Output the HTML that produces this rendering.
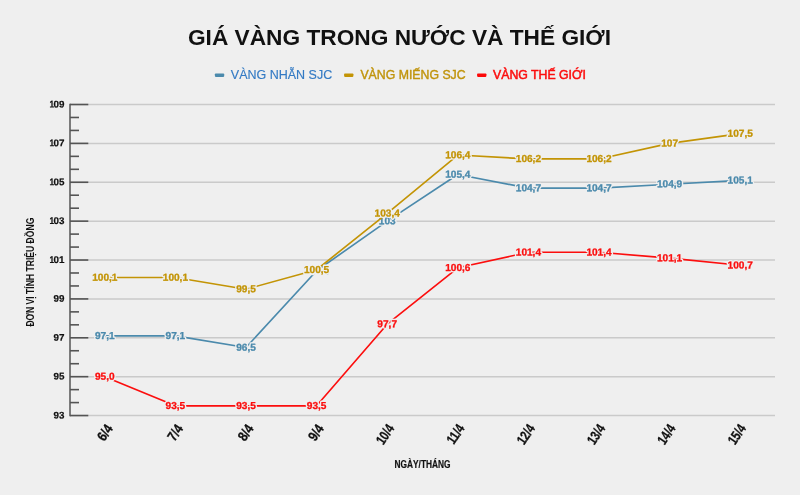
<!DOCTYPE html><html><head><meta charset="utf-8"><style>html,body{margin:0;padding:0;background:#efefef}svg{display:block;will-change:transform}text{font-family:"Liberation Sans",sans-serif}</style></head><body>
<svg width="800" height="495" viewBox="0 0 800 495">
<rect width="800" height="495" fill="#efefef"/>
<text x="399.5" y="44.7" text-anchor="middle" font-size="22.7" font-weight="bold" fill="#111">GIÁ VÀNG TRONG NƯỚC VÀ THẾ GIỚI</text>
<rect x="214.9" y="73.4" width="9.3" height="3.5" rx="0.8" fill="#4b8aac"/>
<text x="230.8" y="78.7" font-size="12.5" fill="#337ac4" stroke="#337ac4" stroke-width="0.15">VÀNG NHẪN SJC</text>
<rect x="344.1" y="73.4" width="9.3" height="3.5" rx="0.8" fill="#c39405"/>
<text x="360.4" y="78.7" font-size="12.3" fill="#c0940c" stroke="#c0940c" stroke-width="0.4">VÀNG MIẾNG SJC</text>
<rect x="477.1" y="73.4" width="9.3" height="3.5" rx="0.8" fill="#fc0808"/>
<text x="493.0" y="78.7" font-size="12.3" fill="#fc0e0e" stroke="#fc0e0e" stroke-width="0.5">VÀNG THẾ GIỚI</text>
<line x1="70" x2="775" y1="415.55" y2="415.55" stroke="#cacaca" stroke-width="1.5"/>
<line x1="70" x2="775" y1="376.67" y2="376.67" stroke="#cacaca" stroke-width="1.5"/>
<line x1="70" x2="775" y1="337.79" y2="337.79" stroke="#cacaca" stroke-width="1.5"/>
<line x1="70" x2="775" y1="298.91" y2="298.91" stroke="#cacaca" stroke-width="1.5"/>
<line x1="70" x2="775" y1="260.03" y2="260.03" stroke="#cacaca" stroke-width="1.5"/>
<line x1="70" x2="775" y1="221.15" y2="221.15" stroke="#cacaca" stroke-width="1.5"/>
<line x1="70" x2="775" y1="182.27" y2="182.27" stroke="#cacaca" stroke-width="1.5"/>
<line x1="70" x2="775" y1="143.39" y2="143.39" stroke="#cacaca" stroke-width="1.5"/>
<line x1="70" x2="775" y1="104.51" y2="104.51" stroke="#cacaca" stroke-width="1.5"/>
<line x1="70" x2="88.3" y1="415.55" y2="415.55" stroke="#545454" stroke-width="1.6"/>
<line x1="70" x2="79.0" y1="402.59" y2="402.59" stroke="#545454" stroke-width="1.6"/>
<line x1="70" x2="79.0" y1="389.63" y2="389.63" stroke="#545454" stroke-width="1.6"/>
<line x1="70" x2="88.3" y1="376.67" y2="376.67" stroke="#545454" stroke-width="1.6"/>
<line x1="70" x2="79.0" y1="363.71" y2="363.71" stroke="#545454" stroke-width="1.6"/>
<line x1="70" x2="79.0" y1="350.75" y2="350.75" stroke="#545454" stroke-width="1.6"/>
<line x1="70" x2="88.3" y1="337.79" y2="337.79" stroke="#545454" stroke-width="1.6"/>
<line x1="70" x2="79.0" y1="324.83" y2="324.83" stroke="#545454" stroke-width="1.6"/>
<line x1="70" x2="79.0" y1="311.87" y2="311.87" stroke="#545454" stroke-width="1.6"/>
<line x1="70" x2="88.3" y1="298.91" y2="298.91" stroke="#545454" stroke-width="1.6"/>
<line x1="70" x2="79.0" y1="285.95" y2="285.95" stroke="#545454" stroke-width="1.6"/>
<line x1="70" x2="79.0" y1="272.99" y2="272.99" stroke="#545454" stroke-width="1.6"/>
<line x1="70" x2="88.3" y1="260.03" y2="260.03" stroke="#545454" stroke-width="1.6"/>
<line x1="70" x2="79.0" y1="247.07" y2="247.07" stroke="#545454" stroke-width="1.6"/>
<line x1="70" x2="79.0" y1="234.11" y2="234.11" stroke="#545454" stroke-width="1.6"/>
<line x1="70" x2="88.3" y1="221.15" y2="221.15" stroke="#545454" stroke-width="1.6"/>
<line x1="70" x2="79.0" y1="208.19" y2="208.19" stroke="#545454" stroke-width="1.6"/>
<line x1="70" x2="79.0" y1="195.23" y2="195.23" stroke="#545454" stroke-width="1.6"/>
<line x1="70" x2="88.3" y1="182.27" y2="182.27" stroke="#545454" stroke-width="1.6"/>
<line x1="70" x2="79.0" y1="169.31" y2="169.31" stroke="#545454" stroke-width="1.6"/>
<line x1="70" x2="79.0" y1="156.35" y2="156.35" stroke="#545454" stroke-width="1.6"/>
<line x1="70" x2="88.3" y1="143.39" y2="143.39" stroke="#545454" stroke-width="1.6"/>
<line x1="70" x2="79.0" y1="130.43" y2="130.43" stroke="#545454" stroke-width="1.6"/>
<line x1="70" x2="79.0" y1="117.47" y2="117.47" stroke="#545454" stroke-width="1.6"/>
<line x1="70" x2="88.3" y1="104.51" y2="104.51" stroke="#545454" stroke-width="1.6"/>
<line x1="70" x2="70" y1="103.81" y2="416.25" stroke="#545454" stroke-width="1.5"/>
<text transform="translate(64.5,418.45) rotate(0.1)" text-anchor="end" font-size="9.7" text-rendering="geometricPrecision" font-weight="bold" fill="#111" stroke="#111" stroke-width="0.2" textLength="10.9" lengthAdjust="spacingAndGlyphs">93</text>
<text transform="translate(64.5,379.57) rotate(0.1)" text-anchor="end" font-size="9.7" text-rendering="geometricPrecision" font-weight="bold" fill="#111" stroke="#111" stroke-width="0.2" textLength="10.9" lengthAdjust="spacingAndGlyphs">95</text>
<text transform="translate(64.5,340.69) rotate(0.1)" text-anchor="end" font-size="9.7" text-rendering="geometricPrecision" font-weight="bold" fill="#111" stroke="#111" stroke-width="0.2" textLength="10.9" lengthAdjust="spacingAndGlyphs">97</text>
<text transform="translate(64.5,301.81) rotate(0.1)" text-anchor="end" font-size="9.7" text-rendering="geometricPrecision" font-weight="bold" fill="#111" stroke="#111" stroke-width="0.2" textLength="10.9" lengthAdjust="spacingAndGlyphs">99</text>
<text transform="translate(64.5,262.93) rotate(0.1)" text-anchor="end" font-size="9.7" text-rendering="geometricPrecision" font-weight="bold" fill="#111" stroke="#111" stroke-width="0.2" textLength="10.9" lengthAdjust="spacingAndGlyphs">01</text>
<text transform="translate(54.0,262.93) rotate(0.1)" text-anchor="end" font-size="9.7" text-rendering="geometricPrecision" font-weight="bold" fill="#111" stroke="#111" stroke-width="0.2" textLength="4.6" lengthAdjust="spacingAndGlyphs">1</text>
<text transform="translate(64.5,224.05) rotate(0.1)" text-anchor="end" font-size="9.7" text-rendering="geometricPrecision" font-weight="bold" fill="#111" stroke="#111" stroke-width="0.2" textLength="10.9" lengthAdjust="spacingAndGlyphs">03</text>
<text transform="translate(54.0,224.05) rotate(0.1)" text-anchor="end" font-size="9.7" text-rendering="geometricPrecision" font-weight="bold" fill="#111" stroke="#111" stroke-width="0.2" textLength="4.6" lengthAdjust="spacingAndGlyphs">1</text>
<text transform="translate(64.5,185.17) rotate(0.1)" text-anchor="end" font-size="9.7" text-rendering="geometricPrecision" font-weight="bold" fill="#111" stroke="#111" stroke-width="0.2" textLength="10.9" lengthAdjust="spacingAndGlyphs">05</text>
<text transform="translate(54.0,185.17) rotate(0.1)" text-anchor="end" font-size="9.7" text-rendering="geometricPrecision" font-weight="bold" fill="#111" stroke="#111" stroke-width="0.2" textLength="4.6" lengthAdjust="spacingAndGlyphs">1</text>
<text transform="translate(64.5,146.29) rotate(0.1)" text-anchor="end" font-size="9.7" text-rendering="geometricPrecision" font-weight="bold" fill="#111" stroke="#111" stroke-width="0.2" textLength="10.9" lengthAdjust="spacingAndGlyphs">07</text>
<text transform="translate(54.0,146.29) rotate(0.1)" text-anchor="end" font-size="9.7" text-rendering="geometricPrecision" font-weight="bold" fill="#111" stroke="#111" stroke-width="0.2" textLength="4.6" lengthAdjust="spacingAndGlyphs">1</text>
<text transform="translate(64.5,107.41) rotate(0.1)" text-anchor="end" font-size="9.7" text-rendering="geometricPrecision" font-weight="bold" fill="#111" stroke="#111" stroke-width="0.2" textLength="10.9" lengthAdjust="spacingAndGlyphs">09</text>
<text transform="translate(54.0,107.41) rotate(0.1)" text-anchor="end" font-size="9.7" text-rendering="geometricPrecision" font-weight="bold" fill="#111" stroke="#111" stroke-width="0.2" textLength="4.6" lengthAdjust="spacingAndGlyphs">1</text>
<text transform="translate(33.8,272.1) rotate(-90)" text-anchor="middle" font-size="10.3" font-weight="bold" fill="#111" textLength="109" lengthAdjust="spacingAndGlyphs">ĐƠN VỊ TÍNH TRIỆU ĐỒNG</text>
<text x="422.5" y="468" text-anchor="middle" font-size="10.5" font-weight="bold" fill="#111" stroke="#111" stroke-width="0.2" textLength="56" lengthAdjust="spacingAndGlyphs">NGÀY/THÁNG</text>
<text transform="translate(113.5,428.4) rotate(-56) scale(0.85,1)" text-anchor="end" font-size="14" font-weight="bold" fill="#111" stroke="#111" stroke-width="0.3">6/4</text>
<text transform="translate(183.8,428.4) rotate(-56) scale(0.85,1)" text-anchor="end" font-size="14" font-weight="bold" fill="#111" stroke="#111" stroke-width="0.3">7/4</text>
<text transform="translate(254.2,428.4) rotate(-56) scale(0.85,1)" text-anchor="end" font-size="14" font-weight="bold" fill="#111" stroke="#111" stroke-width="0.3">8/4</text>
<text transform="translate(324.5,428.4) rotate(-56) scale(0.85,1)" text-anchor="end" font-size="14" font-weight="bold" fill="#111" stroke="#111" stroke-width="0.3">9/4</text>
<text transform="translate(394.8,428.4) rotate(-56) scale(0.76,1)" text-anchor="end" font-size="14" font-weight="bold" fill="#111" stroke="#111" stroke-width="0.3">10/4</text>
<text transform="translate(465.1,428.4) rotate(-56) scale(0.76,1)" text-anchor="end" font-size="14" font-weight="bold" fill="#111" stroke="#111" stroke-width="0.3">11/4</text>
<text transform="translate(535.5,428.4) rotate(-56) scale(0.76,1)" text-anchor="end" font-size="14" font-weight="bold" fill="#111" stroke="#111" stroke-width="0.3">12/4</text>
<text transform="translate(605.8,428.4) rotate(-56) scale(0.76,1)" text-anchor="end" font-size="14" font-weight="bold" fill="#111" stroke="#111" stroke-width="0.3">13/4</text>
<text transform="translate(676.1,428.4) rotate(-56) scale(0.76,1)" text-anchor="end" font-size="14" font-weight="bold" fill="#111" stroke="#111" stroke-width="0.3">14/4</text>
<text transform="translate(746.5,428.4) rotate(-56) scale(0.76,1)" text-anchor="end" font-size="14" font-weight="bold" fill="#111" stroke="#111" stroke-width="0.3">15/4</text>
<polyline points="104.80,335.85 175.40,335.85 246.00,347.51 316.60,270.72 387.20,221.15 457.80,174.49 528.40,188.10 599.00,188.10 669.60,184.21 740.20,180.33" fill="none" stroke="#4b8aac" stroke-width="1.65" stroke-linejoin="round"/>
<text transform="translate(104.80,339.00) rotate(0.1)" text-anchor="middle" font-size="10.1" font-weight="bold" fill="none" stroke="#efefef" stroke-width="3" stroke-linejoin="round">97,1</text>
<text transform="translate(104.80,339.00) rotate(0.1)" text-anchor="middle" font-size="10.1" font-weight="bold" fill="#4b8aac" stroke="#4b8aac" stroke-width="0.3">97,1</text>
<text transform="translate(175.40,339.00) rotate(0.1)" text-anchor="middle" font-size="10.1" font-weight="bold" fill="none" stroke="#efefef" stroke-width="3" stroke-linejoin="round">97,1</text>
<text transform="translate(175.40,339.00) rotate(0.1)" text-anchor="middle" font-size="10.1" font-weight="bold" fill="#4b8aac" stroke="#4b8aac" stroke-width="0.3">97,1</text>
<text transform="translate(246.00,350.66) rotate(0.1)" text-anchor="middle" font-size="10.1" font-weight="bold" fill="none" stroke="#efefef" stroke-width="3" stroke-linejoin="round">96,5</text>
<text transform="translate(246.00,350.66) rotate(0.1)" text-anchor="middle" font-size="10.1" font-weight="bold" fill="#4b8aac" stroke="#4b8aac" stroke-width="0.3">96,5</text>
<text transform="translate(316.60,273.87) rotate(0.1)" text-anchor="middle" font-size="10.1" font-weight="bold" fill="none" stroke="#efefef" stroke-width="3" stroke-linejoin="round">100,4</text>
<text transform="translate(316.60,273.87) rotate(0.1)" text-anchor="middle" font-size="10.1" font-weight="bold" fill="#4b8aac" stroke="#4b8aac" stroke-width="0.3">100,4</text>
<text transform="translate(387.20,224.30) rotate(0.1)" text-anchor="middle" font-size="10.1" font-weight="bold" fill="none" stroke="#efefef" stroke-width="3" stroke-linejoin="round">103</text>
<text transform="translate(387.20,224.30) rotate(0.1)" text-anchor="middle" font-size="10.1" font-weight="bold" fill="#4b8aac" stroke="#4b8aac" stroke-width="0.3">103</text>
<text transform="translate(457.80,177.64) rotate(0.1)" text-anchor="middle" font-size="10.1" font-weight="bold" fill="none" stroke="#efefef" stroke-width="3" stroke-linejoin="round">105,4</text>
<text transform="translate(457.80,177.64) rotate(0.1)" text-anchor="middle" font-size="10.1" font-weight="bold" fill="#4b8aac" stroke="#4b8aac" stroke-width="0.3">105,4</text>
<text transform="translate(528.40,191.25) rotate(0.1)" text-anchor="middle" font-size="10.1" font-weight="bold" fill="none" stroke="#efefef" stroke-width="3" stroke-linejoin="round">104,7</text>
<text transform="translate(528.40,191.25) rotate(0.1)" text-anchor="middle" font-size="10.1" font-weight="bold" fill="#4b8aac" stroke="#4b8aac" stroke-width="0.3">104,7</text>
<text transform="translate(599.00,191.25) rotate(0.1)" text-anchor="middle" font-size="10.1" font-weight="bold" fill="none" stroke="#efefef" stroke-width="3" stroke-linejoin="round">104,7</text>
<text transform="translate(599.00,191.25) rotate(0.1)" text-anchor="middle" font-size="10.1" font-weight="bold" fill="#4b8aac" stroke="#4b8aac" stroke-width="0.3">104,7</text>
<text transform="translate(669.60,187.36) rotate(0.1)" text-anchor="middle" font-size="10.1" font-weight="bold" fill="none" stroke="#efefef" stroke-width="3" stroke-linejoin="round">104,9</text>
<text transform="translate(669.60,187.36) rotate(0.1)" text-anchor="middle" font-size="10.1" font-weight="bold" fill="#4b8aac" stroke="#4b8aac" stroke-width="0.3">104,9</text>
<text transform="translate(740.20,183.48) rotate(0.1)" text-anchor="middle" font-size="10.1" font-weight="bold" fill="none" stroke="#efefef" stroke-width="3" stroke-linejoin="round">105,1</text>
<text transform="translate(740.20,183.48) rotate(0.1)" text-anchor="middle" font-size="10.1" font-weight="bold" fill="#4b8aac" stroke="#4b8aac" stroke-width="0.3">105,1</text>
<polyline points="104.80,277.53 175.40,277.53 246.00,289.19 316.60,269.75 387.20,213.37 457.80,155.05 528.40,158.94 599.00,158.94 669.60,143.39 740.20,133.67" fill="none" stroke="#c39405" stroke-width="1.65" stroke-linejoin="round"/>
<text transform="translate(104.80,280.68) rotate(0.1)" text-anchor="middle" font-size="10.1" font-weight="bold" fill="none" stroke="#efefef" stroke-width="3" stroke-linejoin="round">100,1</text>
<text transform="translate(104.80,280.68) rotate(0.1)" text-anchor="middle" font-size="10.1" font-weight="bold" fill="#c39405" stroke="#c39405" stroke-width="0.3">100,1</text>
<text transform="translate(175.40,280.68) rotate(0.1)" text-anchor="middle" font-size="10.1" font-weight="bold" fill="none" stroke="#efefef" stroke-width="3" stroke-linejoin="round">100,1</text>
<text transform="translate(175.40,280.68) rotate(0.1)" text-anchor="middle" font-size="10.1" font-weight="bold" fill="#c39405" stroke="#c39405" stroke-width="0.3">100,1</text>
<text transform="translate(246.00,292.34) rotate(0.1)" text-anchor="middle" font-size="10.1" font-weight="bold" fill="none" stroke="#efefef" stroke-width="3" stroke-linejoin="round">99,5</text>
<text transform="translate(246.00,292.34) rotate(0.1)" text-anchor="middle" font-size="10.1" font-weight="bold" fill="#c39405" stroke="#c39405" stroke-width="0.3">99,5</text>
<text transform="translate(316.60,272.90) rotate(0.1)" text-anchor="middle" font-size="10.1" font-weight="bold" fill="none" stroke="#efefef" stroke-width="3" stroke-linejoin="round">100,5</text>
<text transform="translate(316.60,272.90) rotate(0.1)" text-anchor="middle" font-size="10.1" font-weight="bold" fill="#c39405" stroke="#c39405" stroke-width="0.3">100,5</text>
<text transform="translate(387.20,216.52) rotate(0.1)" text-anchor="middle" font-size="10.1" font-weight="bold" fill="none" stroke="#efefef" stroke-width="3" stroke-linejoin="round">103,4</text>
<text transform="translate(387.20,216.52) rotate(0.1)" text-anchor="middle" font-size="10.1" font-weight="bold" fill="#c39405" stroke="#c39405" stroke-width="0.3">103,4</text>
<text transform="translate(457.80,158.20) rotate(0.1)" text-anchor="middle" font-size="10.1" font-weight="bold" fill="none" stroke="#efefef" stroke-width="3" stroke-linejoin="round">106,4</text>
<text transform="translate(457.80,158.20) rotate(0.1)" text-anchor="middle" font-size="10.1" font-weight="bold" fill="#c39405" stroke="#c39405" stroke-width="0.3">106,4</text>
<text transform="translate(528.40,162.09) rotate(0.1)" text-anchor="middle" font-size="10.1" font-weight="bold" fill="none" stroke="#efefef" stroke-width="3" stroke-linejoin="round">106,2</text>
<text transform="translate(528.40,162.09) rotate(0.1)" text-anchor="middle" font-size="10.1" font-weight="bold" fill="#c39405" stroke="#c39405" stroke-width="0.3">106,2</text>
<text transform="translate(599.00,162.09) rotate(0.1)" text-anchor="middle" font-size="10.1" font-weight="bold" fill="none" stroke="#efefef" stroke-width="3" stroke-linejoin="round">106,2</text>
<text transform="translate(599.00,162.09) rotate(0.1)" text-anchor="middle" font-size="10.1" font-weight="bold" fill="#c39405" stroke="#c39405" stroke-width="0.3">106,2</text>
<text transform="translate(669.60,146.54) rotate(0.1)" text-anchor="middle" font-size="10.1" font-weight="bold" fill="none" stroke="#efefef" stroke-width="3" stroke-linejoin="round">107</text>
<text transform="translate(669.60,146.54) rotate(0.1)" text-anchor="middle" font-size="10.1" font-weight="bold" fill="#c39405" stroke="#c39405" stroke-width="0.3">107</text>
<text transform="translate(740.20,136.82) rotate(0.1)" text-anchor="middle" font-size="10.1" font-weight="bold" fill="none" stroke="#efefef" stroke-width="3" stroke-linejoin="round">107,5</text>
<text transform="translate(740.20,136.82) rotate(0.1)" text-anchor="middle" font-size="10.1" font-weight="bold" fill="#c39405" stroke="#c39405" stroke-width="0.3">107,5</text>
<polyline points="104.80,376.67 175.40,405.83 246.00,405.83 316.60,405.83 387.20,324.18 457.80,267.81 528.40,252.25 599.00,252.25 669.60,258.09 740.20,265.28" fill="none" stroke="#fc0e0e" stroke-width="1.65" stroke-linejoin="round"/>
<text transform="translate(104.80,379.82) rotate(0.1)" text-anchor="middle" font-size="10.1" font-weight="bold" fill="none" stroke="#efefef" stroke-width="3" stroke-linejoin="round">95,0</text>
<text transform="translate(104.80,379.82) rotate(0.1)" text-anchor="middle" font-size="10.1" font-weight="bold" fill="#fc0e0e" stroke="#fc0e0e" stroke-width="0.3">95,0</text>
<text transform="translate(175.40,408.98) rotate(0.1)" text-anchor="middle" font-size="10.1" font-weight="bold" fill="none" stroke="#efefef" stroke-width="3" stroke-linejoin="round">93,5</text>
<text transform="translate(175.40,408.98) rotate(0.1)" text-anchor="middle" font-size="10.1" font-weight="bold" fill="#fc0e0e" stroke="#fc0e0e" stroke-width="0.3">93,5</text>
<text transform="translate(246.00,408.98) rotate(0.1)" text-anchor="middle" font-size="10.1" font-weight="bold" fill="none" stroke="#efefef" stroke-width="3" stroke-linejoin="round">93,5</text>
<text transform="translate(246.00,408.98) rotate(0.1)" text-anchor="middle" font-size="10.1" font-weight="bold" fill="#fc0e0e" stroke="#fc0e0e" stroke-width="0.3">93,5</text>
<text transform="translate(316.60,408.98) rotate(0.1)" text-anchor="middle" font-size="10.1" font-weight="bold" fill="none" stroke="#efefef" stroke-width="3" stroke-linejoin="round">93,5</text>
<text transform="translate(316.60,408.98) rotate(0.1)" text-anchor="middle" font-size="10.1" font-weight="bold" fill="#fc0e0e" stroke="#fc0e0e" stroke-width="0.3">93,5</text>
<text transform="translate(387.20,327.33) rotate(0.1)" text-anchor="middle" font-size="10.1" font-weight="bold" fill="none" stroke="#efefef" stroke-width="3" stroke-linejoin="round">97,7</text>
<text transform="translate(387.20,327.33) rotate(0.1)" text-anchor="middle" font-size="10.1" font-weight="bold" fill="#fc0e0e" stroke="#fc0e0e" stroke-width="0.3">97,7</text>
<text transform="translate(457.80,270.96) rotate(0.1)" text-anchor="middle" font-size="10.1" font-weight="bold" fill="none" stroke="#efefef" stroke-width="3" stroke-linejoin="round">100,6</text>
<text transform="translate(457.80,270.96) rotate(0.1)" text-anchor="middle" font-size="10.1" font-weight="bold" fill="#fc0e0e" stroke="#fc0e0e" stroke-width="0.3">100,6</text>
<text transform="translate(528.40,255.40) rotate(0.1)" text-anchor="middle" font-size="10.1" font-weight="bold" fill="none" stroke="#efefef" stroke-width="3" stroke-linejoin="round">101,4</text>
<text transform="translate(528.40,255.40) rotate(0.1)" text-anchor="middle" font-size="10.1" font-weight="bold" fill="#fc0e0e" stroke="#fc0e0e" stroke-width="0.3">101,4</text>
<text transform="translate(599.00,255.40) rotate(0.1)" text-anchor="middle" font-size="10.1" font-weight="bold" fill="none" stroke="#efefef" stroke-width="3" stroke-linejoin="round">101,4</text>
<text transform="translate(599.00,255.40) rotate(0.1)" text-anchor="middle" font-size="10.1" font-weight="bold" fill="#fc0e0e" stroke="#fc0e0e" stroke-width="0.3">101,4</text>
<text transform="translate(669.60,261.24) rotate(0.1)" text-anchor="middle" font-size="10.1" font-weight="bold" fill="none" stroke="#efefef" stroke-width="3" stroke-linejoin="round">101,1</text>
<text transform="translate(669.60,261.24) rotate(0.1)" text-anchor="middle" font-size="10.1" font-weight="bold" fill="#fc0e0e" stroke="#fc0e0e" stroke-width="0.3">101,1</text>
<text transform="translate(740.20,268.43) rotate(0.1)" text-anchor="middle" font-size="10.1" font-weight="bold" fill="none" stroke="#efefef" stroke-width="3" stroke-linejoin="round">100,7</text>
<text transform="translate(740.20,268.43) rotate(0.1)" text-anchor="middle" font-size="10.1" font-weight="bold" fill="#fc0e0e" stroke="#fc0e0e" stroke-width="0.3">100,7</text>
</svg></body></html>
